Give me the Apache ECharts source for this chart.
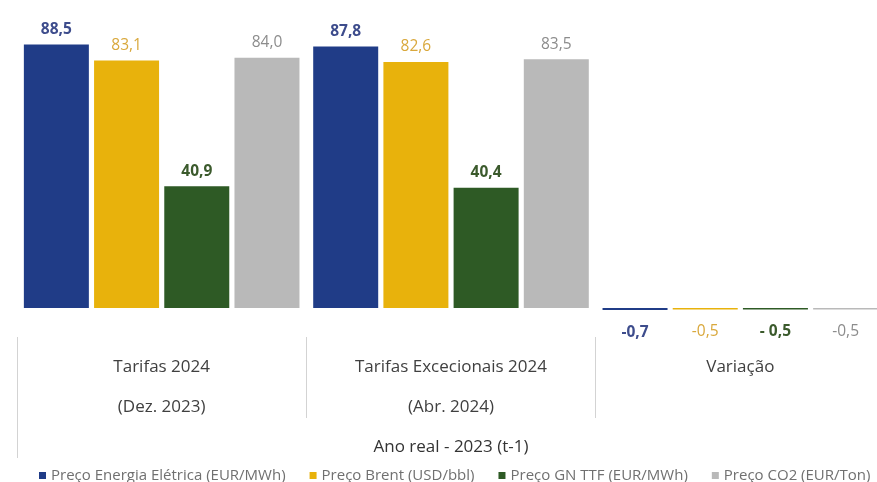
<!DOCTYPE html>
<html>
<head>
<meta charset="utf-8">
<script src="https://cdn.jsdelivr.net/npm/echarts@6/dist/echarts.min.js"></script>
<style>
  html, body { margin: 0; padding: 0; background: #fff; }
  #chart { width: 877px; height: 482px; }
</style>
</head>
<body>
<div id="chart"></div>
<script>
// Categories (two text lines each) and the outer grouping label
const categories = ['Tarifas 2024\n(Dez. 2023)', 'Tarifas Excecionais 2024\n(Abr. 2024)', 'Variação'];
const outerCategory = ['Ano real - 2023 (t-1)'];

// Series names and values
const seriesNames = [
  'Preço Energia Elétrica (EUR/MWh)',
  'Preço Brent (USD/bbl)',
  'Preço GN TTF (EUR/MWh)',
  'Preço CO2 (EUR/Ton)'
];
const energiaEletrica = [88.5, 87.8, -0.7];
const brent = [83.1, 82.6, -0.5];
const gnTTF = [40.9, 40.4, -0.5];
const co2 = [84.0, 83.5, -0.5];

const FONT = '"Open Sans", Lato, sans-serif';

const barColors = ['#203c87', '#e8b20c', '#2e5a25', '#b9b9b9'];
const labelColors = ['#3d4c8c', '#d9a83c', '#3b5a2c', '#8c8c8c'];
const labelWeights = ['bold', 'normal', 'bold', 'normal'];
const spacedSign = [false, false, true, false];

function fmt(v, spaced) {
  const s = Math.abs(v).toFixed(1).replace('.', ',');
  if (v < 0) return (spaced ? '- ' : '-') + s;
  return s;
}

function buildSeries(name, values, i) {
  return {
    name: name,
    type: 'bar',
    xAxisIndex: 0,
    barWidth: 65,
    barGap: '8%',
    itemStyle: { color: barColors[i] },
    data: values.map(v => ({
      value: v,
      label: {
        position: v < 0 ? 'bottom' : 'top',
        distance: v < 0 ? 14 : 7
      }
    })),
    label: {
      show: true,
      fontFamily: FONT,
      fontSize: 15.5,
      color: labelColors[i],
      fontWeight: labelWeights[i],
      formatter: p => fmt(p.value, spacedSign[i])
    }
  };
}

const chart = echarts.init(document.getElementById('chart'));
chart.setOption({
  animation: false,
  backgroundColor: '#ffffff',
  grid: { left: 17, right: -8, top: 40, bottom: 171, outerBoundsMode: 'none', containLabel: false },
  legend: {
    data: seriesNames,
    top: 463,
    left: 34,
    width: 900,
    icon: 'rect',
    itemWidth: 7,
    itemHeight: 7,
    itemGap: 24,
    textStyle: { fontFamily: FONT, fontSize: 15, color: '#707070' }
  },
  xAxis: [
    {
      type: 'category',
      data: categories,
      position: 'bottom',
      axisLine: { show: false },
      axisTick: { show: false },
      axisLabel: { show: false }
    },
    {
      type: 'category',
      data: categories,
      position: 'bottom',
      offset: 26,
      axisLine: { show: false },
      axisTick: { show: true, length: 81, lineStyle: { color: '#d3d3d3', width: 1 } },
      axisLabel: {
        interval: 0,
        margin: 10,
        fontFamily: FONT,
        fontSize: 17,
        lineHeight: 40,
        color: '#404040',
        verticalAlign: 'top'
      }
    },
    {
      type: 'category',
      data: outerCategory,
      position: 'bottom',
      offset: 26,
      axisLine: { show: false },
      axisTick: { show: true, length: 121, lineStyle: { color: '#d3d3d3', width: 1 } },
      axisLabel: {
        interval: 0,
        margin: 100,
        fontFamily: FONT,
        fontSize: 17,
        lineHeight: 20,
        color: '#333333'
      }
    }
  ],
  yAxis: {
    type: 'value',
    min: -1,
    max: 90,
    show: false,
    splitLine: { show: false }
  },
  series: [
    buildSeries(seriesNames[0], energiaEletrica, 0),
    buildSeries(seriesNames[1], brent, 1),
    buildSeries(seriesNames[2], gnTTF, 2),
    buildSeries(seriesNames[3], co2, 3)
  ]
});
</script>
</body>
</html>
